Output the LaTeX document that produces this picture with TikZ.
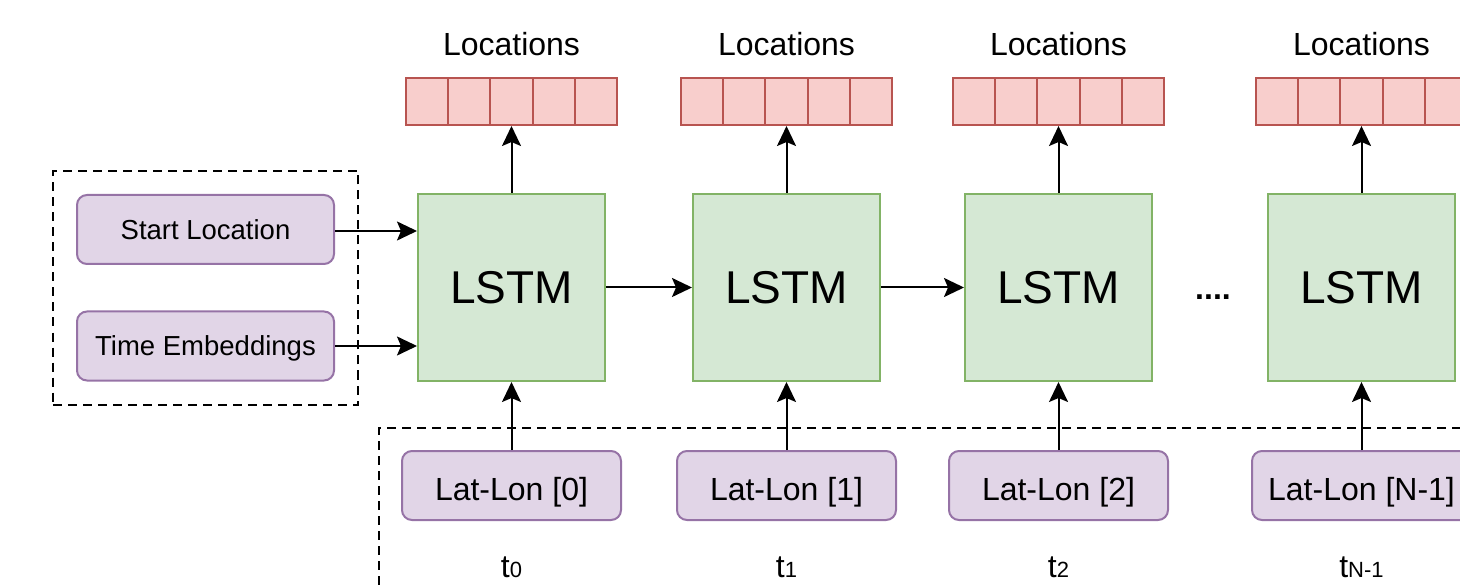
\documentclass[tikz,border=0pt]{standalone}
\usepackage{fontspec}
\setmainfont{Liberation Sans}
\usetikzlibrary{arrows.meta,fit}

\definecolor{lstmfill}{HTML}{D5E8D4}
\definecolor{lstmline}{HTML}{82B366}
\definecolor{cellfill}{HTML}{F8CECC}
\definecolor{cellline}{HTML}{B85450}
\definecolor{inpfill}{HTML}{E1D5E7}
\definecolor{inpline}{HTML}{9673A6}

\tikzset{
  lstm/.style={draw=lstmline, fill=lstmfill, line width=1pt, inner sep=0pt,
    minimum width=93.5pt, minimum height=93.5pt, font=\fontsize{23}{27}\selectfont},
  cell/.style={draw=cellline, fill=cellfill, line width=1pt, inner sep=0pt,
    minimum width=21.1pt, minimum height=23.5pt},
  inbox/.style={draw=inpline, fill=inpfill, line width=1pt, rounded corners=5pt,
    inner sep=0pt, minimum height=34.5pt, text depth=0pt},
  flow/.style={-{Stealth[length=10pt, width=9.5pt, inset=2pt]}, line width=1pt},
  group/.style={draw, line width=1pt, dash pattern=on 4.5pt off 3pt}
}

\begin{document}
\begin{tikzpicture}[x=0.5pt, y=-0.5pt]
\path[use as bounding box, clip] (0,0) rectangle (1460,587);

% inputs fed into the first cell
\node[inbox, minimum width=128.5pt, text height=10.5pt, font=\fontsize{13.75}{16}\selectfont] (start) at (205.5,229.5) {Start Location};
\node[inbox, minimum width=128.5pt, text height=9.9pt, font=\fontsize{13.75}{16}\selectfont] (time) at (205.5,346) {Time Embeddings};
\node[group, fit=(start)(time), inner sep=11.5pt] (inputs) {};

% one column per time step
\foreach \x/\i/\lab in {511.5/0/0, 786.5/1/1, 1058.5/2/2, 1361.5/3/N-1} {
  \node[lstm] (lstm\i) at (\x,287.5) {LSTM};
  \foreach \c in {1,...,5}
    \node[cell] (loc\i-\c) at ({\x+(\c-3)*42.2},101.5) {};
  \node[anchor=base, font=\fontsize{16}{19}\selectfont] (title\i) at (\x,56) {Locations};
  \node[inbox, minimum width=109.5pt, text height=14.7pt, font=\fontsize{16}{19}\selectfont] (ll\i) at (\x,485.5) {Lat-Lon [\lab]};
  \node[anchor=base, inner sep=0pt, font=\fontsize{16}{19}\selectfont] (t\i) at (\x,577)
    {t{\fontsize{11}{13}\selectfont\lab}};
  \draw[flow] (lstm\i) -- (loc\i-3);
  \draw[flow] (ll\i) -- (lstm\i);
}
\node[group, fit=(ll0)(ll3)(t3), inner sep=11pt] (steps) {};

\node[anchor=base, font=\fontsize{16}{19}\bfseries] (dots) at (1213,300) {....};

\draw[flow] ([yshift=-0.75pt]start.east) -- ([yshift=-0.75pt]start.east -| lstm0.west);
\draw[flow] (time.east) -- (time.east -| lstm0.west);
\draw[flow] (lstm0) -- (lstm1);
\draw[flow] (lstm1) -- (lstm2);
\end{tikzpicture}
\end{document}
